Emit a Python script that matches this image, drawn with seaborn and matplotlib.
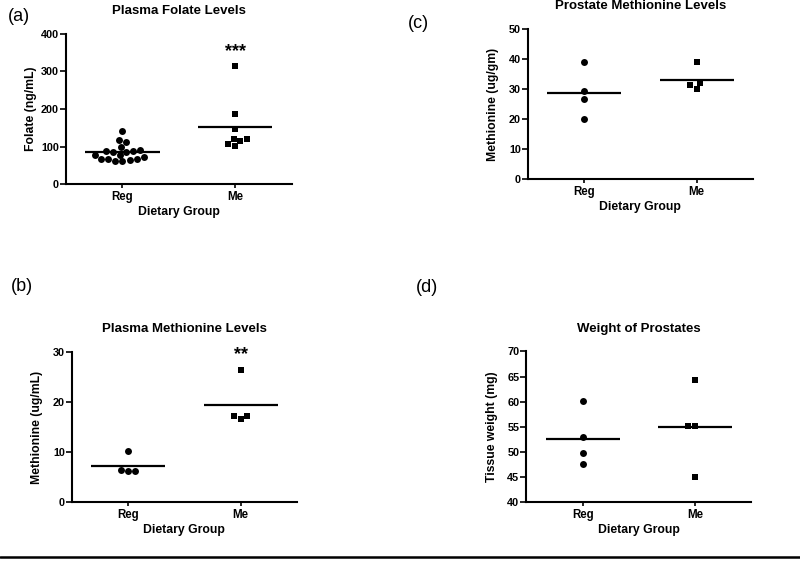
import matplotlib.pyplot as plt
import pandas as pd
import seaborn as sns
from matplotlib.lines import Line2D

sns.set_style("ticks")
plt.rcParams['font.family'] = ['Liberation Sans', 'DejaVu Sans']
plt.rcParams['font.weight'] = 'bold'
plt.rcParams['axes.labelweight'] = 'bold'
plt.rcParams['text.color'] = 'black'
plt.rcParams['axes.labelcolor'] = 'black'

groups = ["Reg", "Me"]

# values
folate_reg = [142, 117, 112, 99, 92, 89, 89, 86, 86, 78, 78, 72, 67, 67, 67, 63, 61, 61]
folate_me = [315, 186, 146, 121, 119, 114, 107, 101]
plasma_met_reg = [10.2, 6.4, 6.2, 6.2]
plasma_met_me = [26.4, 17.2, 17.2, 16.7]
prostate_met_reg = [38.9, 29.4, 26.6, 20.0]
prostate_met_me = [39.1, 32.1, 31.2, 30.0]
weight_reg = [60.1, 53.0, 49.9, 47.7]
weight_me = [64.4, 55.1, 55.1, 45.1]

titles = ["Plasma Folate Levels", "Plasma Methionine Levels",
          "Prostate Methionine Levels", "Weight of Prostates"]
ylabels = ["Folate (ng/mL)", "Methionine (ug/mL)", "Methionine (ug/gm)", "Tissue weight (mg)"]
yticks = [[0, 100, 200, 300, 400], [0, 10, 20, 30], [0, 10, 20, 30, 40, 50], [40, 45, 50, 55, 60, 65, 70]]
stars = ["***", "**", None, None]
star_y = [342, 28.6, None, None]
letters = ["(a)", "(b)", "(c)", "(d)"]


def draw_panel(ax, reg, me, title, ylabel, ticks, star, sy):
    df = pd.DataFrame({"group": ["Reg"] * len(reg) + ["Me"] * len(me),
                       "value": reg + me})
    for grp, mk in zip(groups, ["o", "s"]):
        sns.swarmplot(data=df[df["group"] == grp], x="group", y="value", order=groups,
                      marker=mk, color="black", size=5, ax=ax)
    means = df.groupby("group")["value"].mean()
    for i, grp in enumerate(groups):
        ax.hlines(means[grp], i - 0.33, i + 0.33, color="black", lw=1.6)

    ax.set_xlim(-0.5, 1.5)
    ax.set_ylim(ticks[0], ticks[-1])
    ax.set_yticks(ticks)
    sns.despine(ax=ax)
    for s in ["left", "bottom"]:
        ax.spines[s].set_linewidth(1.5)
        ax.spines[s].set_color("black")
    ax.tick_params(axis="y", length=4, width=1.2, pad=1, labelsize=7.8, colors="black")
    ax.tick_params(axis="x", length=3, width=1.2, pad=2, labelsize=8.3, colors="black")

    ax.set_xlabel("Dietary Group", fontsize=8.8)
    ax.set_ylabel(ylabel, fontsize=8.8)
    ax.xaxis.set_label_coords(0.5, -0.145)
    ax.yaxis.set_label_coords(-0.128, 0.5)
    ax.text(0.5, 1.15, title, transform=ax.transAxes, ha="center", va="center",
            fontsize=9.5, fontweight="bold", color="black")
    if star:
        ax.text(1, sy, star, ha="center", va="baseline", fontsize=13,
                fontweight="bold", color="black", clip_on=False)


fig = plt.figure(figsize=(8, 5.61), dpi=100)
positions = [[0.0825, 0.672, 0.282, 0.2674],
             [0.09, 0.1046, 0.281, 0.2684],
             [0.66, 0.681, 0.281, 0.2674],
             [0.658, 0.1046, 0.281, 0.269]]
data = [(folate_reg, folate_me), (plasma_met_reg, plasma_met_me),
        (prostate_met_reg, prostate_met_me), (weight_reg, weight_me)]

for k in range(4):
    ax = fig.add_axes(positions[k])
    draw_panel(ax, list(data[k][0]), list(data[k][1]), titles[k], ylabels[k],
               yticks[k], stars[k], star_y[k])

# panel letters
letter_pos = [(0.01, 0.971), (0.014, 0.489), (0.51, 0.959), (0.52, 0.488)]
for lt, (x, y) in zip(letters, letter_pos):
    fig.text(x, y, lt, ha="left", va="center", fontsize=13, fontweight="normal")

fig.add_artist(Line2D([0, 1], [0.0077, 0.0077], transform=fig.transFigure,
                      color="black", lw=1.8))

fig.savefig("out.png", dpi=100)
